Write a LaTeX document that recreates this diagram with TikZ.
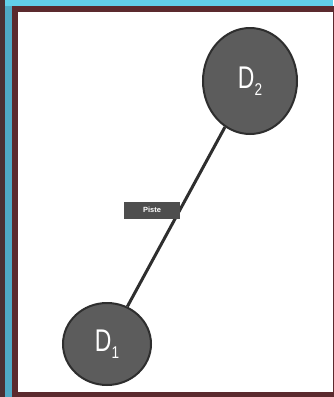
\documentclass[tikz,border=0pt]{standalone}
\usepackage{fontspec}
\setmainfont{Liberation Sans}
\usetikzlibrary{shapes.geometric}
\begin{document}
\definecolor{skycyan}{HTML}{62CFEA}
\definecolor{steelcyan}{HTML}{4FA9C6}
\definecolor{framered}{HTML}{5B2A2E}
\definecolor{edgedark}{HTML}{4A3034}
\definecolor{discfill}{HTML}{5C5C5C}
\definecolor{discedge}{HTML}{2E2E2E}
\definecolor{tagfill}{HTML}{4E4E4E}
% condensed disc label: tall D with a low subscript digit
\newcommand{\disclabel}[1]{\scalebox{0.82}[1.12]{D}\raisebox{-7pt}{\scalebox{0.8}[1.0]{\fontsize{17}{17}\selectfont #1}}}
\tikzset{
  disc/.style={ellipse, draw=discedge, line width=2pt, fill=discfill,
    text=white, inner sep=0pt, font=\fontsize{28}{28}\selectfont},
  link/.style={draw=discedge, line width=3pt},
  tag/.style={fill=tagfill, text=white, inner sep=0pt,
    minimum width=56pt, minimum height=17pt, font=\bfseries\fontsize{7.5}{7.5}\selectfont}
}
\begin{tikzpicture}[x=1pt,y=-1pt]
  \useasboundingbox (0,0) rectangle (333,397);
  % backdrop and framed panel
  \fill[skycyan] (0,0) rectangle (333,397);
  \fill[steelcyan] (5,6) rectangle (12,397);
  \fill[edgedark] (0,0) rectangle (5,397);
  \fill[framered] (12,6) rectangle (340,397);
  \fill[white] (18,12) rectangle (333,392);
  % nodes
  \node[disc, minimum width=94pt, minimum height=106pt] (d2) at (250,81) {\disclabel{2}};
  \node[disc, minimum width=88pt, minimum height=82pt] (d1) at (107,344) {\disclabel{1}};
  \draw[link] (d1) -- (d2);
  \node[tag] (piste) at (152,210) {Piste};
\end{tikzpicture}
\end{document}
